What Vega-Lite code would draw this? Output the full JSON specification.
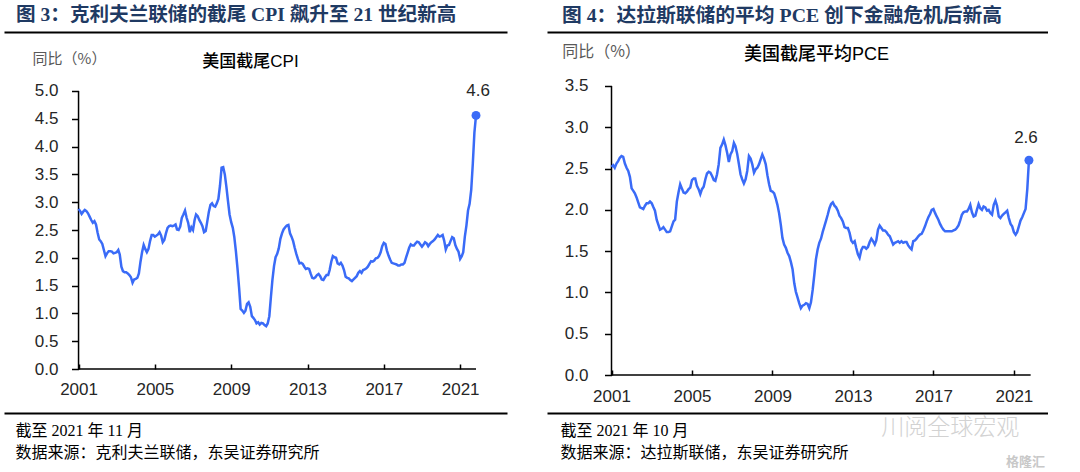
{
  "$schema": "https://vega.github.io/schema/vega-lite/v6.json",
  "background": "white",
  "padding": {"left": 4, "top": 5, "right": 0, "bottom": 0},
  "spacing": 40,
  "config": {"view": {"stroke": null}, "axis": {"grid": false}, "font": "Liberation Sans"},
  "datasets": {
    "cpi": [
      {"d":"2001-01","v":2.88},{"d":"2001-02","v":2.84},{"d":"2001-03","v":2.79},{"d":"2001-04","v":2.83},{"d":"2001-05","v":2.86},{"d":"2001-06","v":2.84},{"d":"2001-07","v":2.80},{"d":"2001-08","v":2.74},{"d":"2001-09","v":2.68},{"d":"2001-10","v":2.63},{"d":"2001-11","v":2.66},{"d":"2001-12","v":2.60},
      {"d":"2002-01","v":2.45},{"d":"2002-02","v":2.33},{"d":"2002-03","v":2.30},{"d":"2002-04","v":2.25},{"d":"2002-05","v":2.14},{"d":"2002-06","v":2.03},{"d":"2002-07","v":2.08},{"d":"2002-08","v":2.12},{"d":"2002-09","v":2.12},{"d":"2002-10","v":2.11},{"d":"2002-11","v":2.08},{"d":"2002-12","v":2.09},
      {"d":"2003-01","v":2.10},{"d":"2003-02","v":2.14},{"d":"2003-03","v":2.06},{"d":"2003-04","v":1.84},{"d":"2003-05","v":1.76},{"d":"2003-06","v":1.74},{"d":"2003-07","v":1.74},{"d":"2003-08","v":1.72},{"d":"2003-09","v":1.69},{"d":"2003-10","v":1.65},{"d":"2003-11","v":1.55},{"d":"2003-12","v":1.61},
      {"d":"2004-01","v":1.62},{"d":"2004-02","v":1.64},{"d":"2004-03","v":1.72},{"d":"2004-04","v":1.93},{"d":"2004-05","v":2.10},{"d":"2004-06","v":2.23},{"d":"2004-07","v":2.16},{"d":"2004-08","v":2.10},{"d":"2004-09","v":2.16},{"d":"2004-10","v":2.30},{"d":"2004-11","v":2.41},{"d":"2004-12","v":2.41},
      {"d":"2005-01","v":2.38},{"d":"2005-02","v":2.40},{"d":"2005-03","v":2.42},{"d":"2005-04","v":2.46},{"d":"2005-05","v":2.40},{"d":"2005-06","v":2.28},{"d":"2005-07","v":2.32},{"d":"2005-08","v":2.44},{"d":"2005-09","v":2.54},{"d":"2005-10","v":2.57},{"d":"2005-11","v":2.58},{"d":"2005-12","v":2.57},
      {"d":"2006-01","v":2.58},{"d":"2006-02","v":2.60},{"d":"2006-03","v":2.51},{"d":"2006-04","v":2.50},{"d":"2006-05","v":2.56},{"d":"2006-06","v":2.72},{"d":"2006-07","v":2.78},{"d":"2006-08","v":2.85},{"d":"2006-09","v":2.72},{"d":"2006-10","v":2.63},{"d":"2006-11","v":2.46},{"d":"2006-12","v":2.55},
      {"d":"2007-01","v":2.50},{"d":"2007-02","v":2.68},{"d":"2007-03","v":2.78},{"d":"2007-04","v":2.75},{"d":"2007-05","v":2.68},{"d":"2007-06","v":2.63},{"d":"2007-07","v":2.57},{"d":"2007-08","v":2.46},{"d":"2007-09","v":2.48},{"d":"2007-10","v":2.65},{"d":"2007-11","v":2.83},{"d":"2007-12","v":2.95},
      {"d":"2008-01","v":2.98},{"d":"2008-02","v":2.93},{"d":"2008-03","v":2.92},{"d":"2008-04","v":2.98},{"d":"2008-05","v":3.06},{"d":"2008-06","v":3.30},{"d":"2008-07","v":3.62},{"d":"2008-08","v":3.63},{"d":"2008-09","v":3.50},{"d":"2008-10","v":3.28},{"d":"2008-11","v":3.02},{"d":"2008-12","v":2.78},
      {"d":"2009-01","v":2.64},{"d":"2009-02","v":2.54},{"d":"2009-03","v":2.38},{"d":"2009-04","v":2.12},{"d":"2009-05","v":1.82},{"d":"2009-06","v":1.47},{"d":"2009-07","v":1.08},{"d":"2009-08","v":1.05},{"d":"2009-09","v":1.01},{"d":"2009-10","v":1.05},{"d":"2009-11","v":1.17},{"d":"2009-12","v":1.20},
      {"d":"2010-01","v":1.12},{"d":"2010-02","v":0.95},{"d":"2010-03","v":0.92},{"d":"2010-04","v":0.88},{"d":"2010-05","v":0.82},{"d":"2010-06","v":0.84},{"d":"2010-07","v":0.80},{"d":"2010-08","v":0.83},{"d":"2010-09","v":0.82},{"d":"2010-10","v":0.79},{"d":"2010-11","v":0.77},{"d":"2010-12","v":0.82},
      {"d":"2011-01","v":0.95},{"d":"2011-02","v":1.30},{"d":"2011-03","v":1.60},{"d":"2011-04","v":1.85},{"d":"2011-05","v":2.01},{"d":"2011-06","v":2.07},{"d":"2011-07","v":2.17},{"d":"2011-08","v":2.34},{"d":"2011-09","v":2.44},{"d":"2011-10","v":2.51},{"d":"2011-11","v":2.55},{"d":"2011-12","v":2.58},
      {"d":"2012-01","v":2.59},{"d":"2012-02","v":2.44},{"d":"2012-03","v":2.38},{"d":"2012-04","v":2.30},{"d":"2012-05","v":2.18},{"d":"2012-06","v":2.07},{"d":"2012-07","v":1.98},{"d":"2012-08","v":1.90},{"d":"2012-09","v":1.91},{"d":"2012-10","v":1.89},{"d":"2012-11","v":1.84},{"d":"2012-12","v":1.80},
      {"d":"2013-01","v":1.81},{"d":"2013-02","v":1.80},{"d":"2013-03","v":1.72},{"d":"2013-04","v":1.64},{"d":"2013-05","v":1.63},{"d":"2013-06","v":1.65},{"d":"2013-07","v":1.69},{"d":"2013-08","v":1.71},{"d":"2013-09","v":1.67},{"d":"2013-10","v":1.61},{"d":"2013-11","v":1.60},{"d":"2013-12","v":1.65},
      {"d":"2014-01","v":1.69},{"d":"2014-02","v":1.69},{"d":"2014-03","v":1.78},{"d":"2014-04","v":1.93},{"d":"2014-05","v":2.03},{"d":"2014-06","v":2.01},{"d":"2014-07","v":2.00},{"d":"2014-08","v":1.90},{"d":"2014-09","v":1.88},{"d":"2014-10","v":1.91},{"d":"2014-11","v":1.86},{"d":"2014-12","v":1.78},
      {"d":"2015-01","v":1.66},{"d":"2015-02","v":1.64},{"d":"2015-03","v":1.63},{"d":"2015-04","v":1.60},{"d":"2015-05","v":1.58},{"d":"2015-06","v":1.61},{"d":"2015-07","v":1.64},{"d":"2015-08","v":1.67},{"d":"2015-09","v":1.73},{"d":"2015-10","v":1.76},{"d":"2015-11","v":1.73},{"d":"2015-12","v":1.78},
      {"d":"2016-01","v":1.79},{"d":"2016-02","v":1.81},{"d":"2016-03","v":1.84},{"d":"2016-04","v":1.89},{"d":"2016-05","v":1.94},{"d":"2016-06","v":1.93},{"d":"2016-07","v":1.95},{"d":"2016-08","v":1.99},{"d":"2016-09","v":2.00},{"d":"2016-10","v":2.03},{"d":"2016-11","v":2.10},{"d":"2016-12","v":2.21},
      {"d":"2017-01","v":2.27},{"d":"2017-02","v":2.25},{"d":"2017-03","v":2.13},{"d":"2017-04","v":2.04},{"d":"2017-05","v":1.97},{"d":"2017-06","v":1.91},{"d":"2017-07","v":1.90},{"d":"2017-08","v":1.89},{"d":"2017-09","v":1.88},{"d":"2017-10","v":1.86},{"d":"2017-11","v":1.86},{"d":"2017-12","v":1.88},
      {"d":"2018-01","v":1.88},{"d":"2018-02","v":1.91},{"d":"2018-03","v":2.00},{"d":"2018-04","v":2.09},{"d":"2018-05","v":2.18},{"d":"2018-06","v":2.24},{"d":"2018-07","v":2.22},{"d":"2018-08","v":2.22},{"d":"2018-09","v":2.26},{"d":"2018-10","v":2.29},{"d":"2018-11","v":2.28},{"d":"2018-12","v":2.24},
      {"d":"2019-01","v":2.20},{"d":"2019-02","v":2.24},{"d":"2019-03","v":2.28},{"d":"2019-04","v":2.26},{"d":"2019-05","v":2.21},{"d":"2019-06","v":2.25},{"d":"2019-07","v":2.28},{"d":"2019-08","v":2.30},{"d":"2019-09","v":2.33},{"d":"2019-10","v":2.37},{"d":"2019-11","v":2.41},{"d":"2019-12","v":2.38},
      {"d":"2020-01","v":2.39},{"d":"2020-02","v":2.41},{"d":"2020-03","v":2.31},{"d":"2020-04","v":2.15},{"d":"2020-05","v":2.22},{"d":"2020-06","v":2.23},{"d":"2020-07","v":2.30},{"d":"2020-08","v":2.37},{"d":"2020-09","v":2.35},{"d":"2020-10","v":2.23},{"d":"2020-11","v":2.16},{"d":"2020-12","v":2.11},
      {"d":"2021-01","v":1.98},{"d":"2021-02","v":2.03},{"d":"2021-03","v":2.10},{"d":"2021-04","v":2.38},{"d":"2021-05","v":2.58},{"d":"2021-06","v":2.85},{"d":"2021-07","v":2.97},{"d":"2021-08","v":3.22},{"d":"2021-09","v":3.70},{"d":"2021-10","v":4.25},{"d":"2021-11","v":4.56}
    ],
    "pce": [
      {"d":"2001-01","v":2.52},{"d":"2001-02","v":2.54},{"d":"2001-03","v":2.51},{"d":"2001-04","v":2.56},{"d":"2001-05","v":2.59},{"d":"2001-06","v":2.63},{"d":"2001-07","v":2.65},{"d":"2001-08","v":2.64},{"d":"2001-09","v":2.56},{"d":"2001-10","v":2.51},{"d":"2001-11","v":2.47},{"d":"2001-12","v":2.40},
      {"d":"2002-01","v":2.26},{"d":"2002-02","v":2.23},{"d":"2002-03","v":2.20},{"d":"2002-04","v":2.15},{"d":"2002-05","v":2.09},{"d":"2002-06","v":2.03},{"d":"2002-07","v":2.02},{"d":"2002-08","v":2.01},{"d":"2002-09","v":2.05},{"d":"2002-10","v":2.08},{"d":"2002-11","v":2.08},{"d":"2002-12","v":2.10},
      {"d":"2003-01","v":2.08},{"d":"2003-02","v":2.03},{"d":"2003-03","v":1.99},{"d":"2003-04","v":1.88},{"d":"2003-05","v":1.82},{"d":"2003-06","v":1.76},{"d":"2003-07","v":1.77},{"d":"2003-08","v":1.79},{"d":"2003-09","v":1.76},{"d":"2003-10","v":1.73},{"d":"2003-11","v":1.73},{"d":"2003-12","v":1.74},
      {"d":"2004-01","v":1.80},{"d":"2004-02","v":1.86},{"d":"2004-03","v":1.88},{"d":"2004-04","v":2.10},{"d":"2004-05","v":2.21},{"d":"2004-06","v":2.31},{"d":"2004-07","v":2.26},{"d":"2004-08","v":2.21},{"d":"2004-09","v":2.20},{"d":"2004-10","v":2.22},{"d":"2004-11","v":2.25},{"d":"2004-12","v":2.27},
      {"d":"2005-01","v":2.36},{"d":"2005-02","v":2.38},{"d":"2005-03","v":2.38},{"d":"2005-04","v":2.29},{"d":"2005-05","v":2.25},{"d":"2005-06","v":2.19},{"d":"2005-07","v":2.25},{"d":"2005-08","v":2.28},{"d":"2005-09","v":2.37},{"d":"2005-10","v":2.44},{"d":"2005-11","v":2.46},{"d":"2005-12","v":2.45},
      {"d":"2006-01","v":2.41},{"d":"2006-02","v":2.36},{"d":"2006-03","v":2.35},{"d":"2006-04","v":2.43},{"d":"2006-05","v":2.55},{"d":"2006-06","v":2.75},{"d":"2006-07","v":2.79},{"d":"2006-08","v":2.85},{"d":"2006-09","v":2.78},{"d":"2006-10","v":2.69},{"d":"2006-11","v":2.58},{"d":"2006-12","v":2.67},
      {"d":"2007-01","v":2.71},{"d":"2007-02","v":2.81},{"d":"2007-03","v":2.77},{"d":"2007-04","v":2.68},{"d":"2007-05","v":2.56},{"d":"2007-06","v":2.43},{"d":"2007-07","v":2.37},{"d":"2007-08","v":2.32},{"d":"2007-09","v":2.37},{"d":"2007-10","v":2.47},{"d":"2007-11","v":2.65},{"d":"2007-12","v":2.62},
      {"d":"2008-01","v":2.55},{"d":"2008-02","v":2.45},{"d":"2008-03","v":2.49},{"d":"2008-04","v":2.51},{"d":"2008-05","v":2.55},{"d":"2008-06","v":2.61},{"d":"2008-07","v":2.67},{"d":"2008-08","v":2.62},{"d":"2008-09","v":2.55},{"d":"2008-10","v":2.42},{"d":"2008-11","v":2.31},{"d":"2008-12","v":2.23},
      {"d":"2009-01","v":2.22},{"d":"2009-02","v":2.20},{"d":"2009-03","v":2.14},{"d":"2009-04","v":2.06},{"d":"2009-05","v":1.96},{"d":"2009-06","v":1.82},{"d":"2009-07","v":1.66},{"d":"2009-08","v":1.58},{"d":"2009-09","v":1.54},{"d":"2009-10","v":1.48},{"d":"2009-11","v":1.44},{"d":"2009-12","v":1.37},
      {"d":"2010-01","v":1.28},{"d":"2010-02","v":1.11},{"d":"2010-03","v":1.01},{"d":"2010-04","v":0.94},{"d":"2010-05","v":0.87},{"d":"2010-06","v":0.81},{"d":"2010-07","v":0.84},{"d":"2010-08","v":0.85},{"d":"2010-09","v":0.87},{"d":"2010-10","v":0.86},{"d":"2010-11","v":0.81},{"d":"2010-12","v":0.88},
      {"d":"2011-01","v":1.03},{"d":"2011-02","v":1.22},{"d":"2011-03","v":1.40},{"d":"2011-04","v":1.52},{"d":"2011-05","v":1.60},{"d":"2011-06","v":1.65},{"d":"2011-07","v":1.73},{"d":"2011-08","v":1.80},{"d":"2011-09","v":1.87},{"d":"2011-10","v":1.94},{"d":"2011-11","v":2.02},{"d":"2011-12","v":2.07},
      {"d":"2012-01","v":2.09},{"d":"2012-02","v":2.05},{"d":"2012-03","v":2.03},{"d":"2012-04","v":1.99},{"d":"2012-05","v":1.93},{"d":"2012-06","v":1.90},{"d":"2012-07","v":1.86},{"d":"2012-08","v":1.79},{"d":"2012-09","v":1.78},{"d":"2012-10","v":1.78},{"d":"2012-11","v":1.72},{"d":"2012-12","v":1.63},
      {"d":"2013-01","v":1.60},{"d":"2013-02","v":1.62},{"d":"2013-03","v":1.54},{"d":"2013-04","v":1.46},{"d":"2013-05","v":1.42},{"d":"2013-06","v":1.51},{"d":"2013-07","v":1.55},{"d":"2013-08","v":1.55},{"d":"2013-09","v":1.53},{"d":"2013-10","v":1.55},{"d":"2013-11","v":1.61},{"d":"2013-12","v":1.65},
      {"d":"2014-01","v":1.62},{"d":"2014-02","v":1.58},{"d":"2014-03","v":1.63},{"d":"2014-04","v":1.76},{"d":"2014-05","v":1.81},{"d":"2014-06","v":1.78},{"d":"2014-07","v":1.75},{"d":"2014-08","v":1.75},{"d":"2014-09","v":1.73},{"d":"2014-10","v":1.70},{"d":"2014-11","v":1.68},{"d":"2014-12","v":1.63},
      {"d":"2015-01","v":1.58},{"d":"2015-02","v":1.60},{"d":"2015-03","v":1.61},{"d":"2015-04","v":1.62},{"d":"2015-05","v":1.60},{"d":"2015-06","v":1.62},{"d":"2015-07","v":1.60},{"d":"2015-08","v":1.61},{"d":"2015-09","v":1.61},{"d":"2015-10","v":1.57},{"d":"2015-11","v":1.54},{"d":"2015-12","v":1.52},
      {"d":"2016-01","v":1.62},{"d":"2016-02","v":1.63},{"d":"2016-03","v":1.65},{"d":"2016-04","v":1.68},{"d":"2016-05","v":1.70},{"d":"2016-06","v":1.71},{"d":"2016-07","v":1.75},{"d":"2016-08","v":1.80},{"d":"2016-09","v":1.86},{"d":"2016-10","v":1.91},{"d":"2016-11","v":1.95},{"d":"2016-12","v":2.00},
      {"d":"2017-01","v":2.01},{"d":"2017-02","v":1.96},{"d":"2017-03","v":1.92},{"d":"2017-04","v":1.88},{"d":"2017-05","v":1.83},{"d":"2017-06","v":1.79},{"d":"2017-07","v":1.76},{"d":"2017-08","v":1.74},{"d":"2017-09","v":1.74},{"d":"2017-10","v":1.74},{"d":"2017-11","v":1.74},{"d":"2017-12","v":1.74},
      {"d":"2018-01","v":1.75},{"d":"2018-02","v":1.76},{"d":"2018-03","v":1.78},{"d":"2018-04","v":1.81},{"d":"2018-05","v":1.87},{"d":"2018-06","v":1.94},{"d":"2018-07","v":1.97},{"d":"2018-08","v":1.98},{"d":"2018-09","v":1.98},{"d":"2018-10","v":2.01},{"d":"2018-11","v":2.06},{"d":"2018-12","v":1.97},
      {"d":"2019-01","v":1.92},{"d":"2019-02","v":1.93},{"d":"2019-03","v":2.00},{"d":"2019-04","v":2.07},{"d":"2019-05","v":2.02},{"d":"2019-06","v":2.00},{"d":"2019-07","v":2.04},{"d":"2019-08","v":2.03},{"d":"2019-09","v":1.99},{"d":"2019-10","v":2.00},{"d":"2019-11","v":1.96},{"d":"2019-12","v":1.94},
      {"d":"2020-01","v":2.06},{"d":"2020-02","v":2.11},{"d":"2020-03","v":2.05},{"d":"2020-04","v":1.92},{"d":"2020-05","v":1.90},{"d":"2020-06","v":1.93},{"d":"2020-07","v":1.95},{"d":"2020-08","v":1.97},{"d":"2020-09","v":1.99},{"d":"2020-10","v":1.90},{"d":"2020-11","v":1.83},{"d":"2020-12","v":1.80},
      {"d":"2021-01","v":1.73},{"d":"2021-02","v":1.70},{"d":"2021-03","v":1.73},{"d":"2021-04","v":1.80},{"d":"2021-05","v":1.87},{"d":"2021-06","v":1.91},{"d":"2021-07","v":1.96},{"d":"2021-08","v":2.01},{"d":"2021-09","v":2.25},{"d":"2021-10","v":2.60}
    ]
  },
  "hconcat": [
    {
      "width": 503,
      "height": 381,
      "title": {"text": "图 3：克利夫兰联储的截尾 CPI 飙升至 21 世纪新高", "anchor": "start", "frame": "group", "font": "Liberation Serif, Noto Sans CJK SC", "fontSize": 19.6, "fontWeight": "bold", "color": "#1F3A63", "dx": 12, "offset": 6},
      "data": {"name": "cpi"},
      "resolve": {"axis": {"x": "independent", "y": "independent"}},
      "layer": [
        {
          "data": {"values": [{}]},
          "mark": {"type": "rule", "color": "#000000", "strokeWidth": 1.5},
          "encoding": {
            "x": {"datum": {"year": 2001, "month": 1, "date": 1, "utc": true}, "type": "temporal", "axis": null},
            "x2": {"datum": {"year": 2021, "month": 11, "date": 1, "utc": true}},
            "y": {"datum": 0, "type": "quantitative", "axis": null}
          }
        },
        {
          "data": {"values": [{}]},
          "mark": {"type": "rule", "color": "#000000", "strokeWidth": 1.5},
          "encoding": {
            "x": {"datum": {"year": 2001, "month": 1, "date": 1, "utc": true}, "type": "temporal", "axis": null},
            "y": {"datum": 0, "type": "quantitative", "axis": null},
            "y2": {"datum": 5}
          }
        },
        {
          "mark": {"type": "line", "color": "#3A6BF7", "strokeWidth": 2.5},
          "encoding": {
            "x": {"field": "d", "type": "temporal",
              "scale": {"type": "utc", "domain": [{"year": 1997, "month": 2, "date": 4, "utc": true}, {"year": 2023, "month": 6, "date": 17, "utc": true}]},
              "axis": {"orient": "bottom", "offset": -44, "values": [{"year": 2001, "utc": true}, {"year": 2005, "utc": true}, {"year": 2009, "utc": true}, {"year": 2013, "utc": true}, {"year": 2017, "utc": true}, {"year": 2021, "utc": true}],
                "format": "%Y", "formatType": "utc", "domain": false, "tickSize": -5, "tickColor": "#000000", "tickWidth": 1.5,
                "labelFont": "Liberation Sans", "labelFontSize": 17, "labelColor": "#262626", "labelPadding": 17, "labelFlush": false, "labelOverlap": false, "title": null}},
            "y": {"field": "v", "type": "quantitative",
              "scale": {"domain": [-0.791, 6.061], "nice": false, "zero": false},
              "axis": {"orient": "left", "offset": -74.5, "values": [0, 0.5, 1, 1.5, 2, 2.5, 3, 3.5, 4, 4.5, 5], "format": ".1f", "domain": false,
                "tickSize": 7, "tickColor": "#000000", "tickWidth": 1.5, "labelFont": "Liberation Sans", "labelFontSize": 17, "labelColor": "#262626", "labelPadding": 13.5, "labelFlush": false, "labelOverlap": false,
                "title": "同比（%）", "titleAngle": 0, "titleX": -9.5, "titleY": 26, "titleAlign": "center", "titleBaseline": "middle",
                "titleFont": "Noto Sans CJK SC", "titleFontSize": 15, "titleFontWeight": "normal", "titleColor": "#595959"}}
          }
        },
        {
          "transform": [{"filter": "utcyear(datum.d) == 2021 && utcmonth(datum.d) == 10"}],
          "mark": {"type": "point", "filled": true, "color": "#3A6BF7", "size": 80, "opacity": 1},
          "encoding": {
            "x": {"field": "d", "type": "temporal",
              "axis": {"orient": "top", "domain": true, "domainColor": "#000000", "domainWidth": 2, "ticks": false, "labels": false,
                "title": "美国截尾CPI", "titleX": 246, "titleY": 29, "titleAlign": "center", "titleBaseline": "middle", "titleAngle": 0,
                "titleFont": "Liberation Sans, Noto Sans CJK SC", "titleFontSize": 17, "titleFontWeight": 500, "titleColor": "#000000"}},
            "y": {"field": "v", "type": "quantitative", "axis": null}
          }
        },
        {
          "transform": [{"filter": "utcyear(datum.d) == 2021 && utcmonth(datum.d) == 10"}],
          "mark": {"type": "text", "fontSize": 17, "color": "#262626", "baseline": "bottom", "dy": -15, "dx": 2, "font": "Liberation Sans"},
          "encoding": {
            "x": {"field": "d", "type": "temporal",
              "axis": {"orient": "bottom", "domain": true, "domainColor": "#000000", "domainWidth": 2, "ticks": false, "labels": false,
                "title": ["截至 2021 年 11 月", "数据来源：克利夫兰联储，东吴证券研究所"], "titleX": 11, "titleY": 9, "titleAlign": "left", "titleBaseline": "top", "titleAngle": 0,
                "titleFont": "Liberation Serif, Noto Sans CJK SC", "titleFontSize": 16, "titleFontWeight": "normal", "titleColor": "#000000", "titleLineHeight": 22}},
            "y": {"field": "v", "type": "quantitative", "axis": null},
            "text": {"field": "v", "format": ".1f"}
          }
        }
      ]
    },
    {
      "width": 501,
      "height": 381,
      "title": {"text": "图 4：达拉斯联储的平均 PCE 创下金融危机后新高", "anchor": "start", "frame": "group", "font": "Liberation Serif, Noto Sans CJK SC", "fontSize": 19.8, "fontWeight": "bold", "color": "#1F3A63", "dx": 15, "offset": 6},
      "data": {"name": "pce"},
      "resolve": {"axis": {"x": "independent", "y": "independent"}},
      "layer": [
        {
          "data": {"values": [{}]},
          "mark": {"type": "rule", "color": "#000000", "strokeWidth": 1.5},
          "encoding": {
            "x": {"datum": {"year": 2001, "month": 1, "date": 1, "utc": true}, "type": "temporal", "axis": null},
            "x2": {"datum": {"year": 2021, "month": 11, "date": 1, "utc": true}},
            "y": {"datum": 0, "type": "quantitative", "axis": null}
          }
        },
        {
          "data": {"values": [{}]},
          "mark": {"type": "rule", "color": "#000000", "strokeWidth": 1.5},
          "encoding": {
            "x": {"datum": {"year": 2001, "month": 1, "date": 1, "utc": true}, "type": "temporal", "axis": null},
            "y": {"datum": 0, "type": "quantitative", "axis": null},
            "y2": {"datum": 3.5}
          }
        },
        {
          "data": {"values": [{}]},
          "mark": {"type": "text", "fontSize": 23, "color": "#d2d2d2", "font": "Noto Sans CJK SC", "fontWeight": 300, "baseline": "middle"},
          "encoding": {
            "x": {"datum": {"year": 2017, "month": 11, "date": 1, "utc": true}, "type": "temporal", "axis": null},
            "y": {"datum": -0.64, "type": "quantitative", "axis": null},
            "text": {"value": "川阅全球宏观"}
          }
        },
        {
          "data": {"values": [{}]},
          "mark": {"type": "text", "fontSize": 13, "color": "#c8c8c8", "font": "Noto Sans CJK SC", "fontWeight": "bold"},
          "encoding": {
            "x": {"datum": {"year": 2021, "month": 8, "date": 1, "utc": true}, "type": "temporal", "axis": null},
            "y": {"datum": -1.05, "type": "quantitative", "axis": null},
            "text": {"value": "格隆汇"}
          }
        },
        {
          "mark": {"type": "line", "color": "#3A6BF7", "strokeWidth": 2.5},
          "encoding": {
            "x": {"field": "d", "type": "temporal",
              "scale": {"type": "utc", "domain": [{"year": 1997, "month": 10, "date": 18, "utc": true}, {"year": 2022, "month": 9, "date": 12, "utc": true}]},
              "axis": {"orient": "bottom", "offset": -38, "values": [{"year": 2001, "utc": true}, {"year": 2005, "utc": true}, {"year": 2009, "utc": true}, {"year": 2013, "utc": true}, {"year": 2017, "utc": true}, {"year": 2021, "utc": true}],
                "format": "%Y", "formatType": "utc", "domain": false, "tickSize": -5, "tickColor": "#000000", "tickWidth": 1.5,
                "labelFont": "Liberation Sans", "labelFontSize": 17, "labelColor": "#262626", "labelPadding": 18, "labelFlush": false, "labelOverlap": false, "title": null}},
            "y": {"field": "v", "type": "quantitative",
              "scale": {"domain": [-0.46, 4.153], "nice": false, "zero": false},
              "axis": {"orient": "left", "offset": -64.5, "values": [0, 0.5, 1, 1.5, 2, 2.5, 3, 3.5], "format": ".1f", "domain": false,
                "tickSize": 7, "tickColor": "#000000", "tickWidth": 1.5, "labelFont": "Liberation Sans", "labelFontSize": 17, "labelColor": "#262626", "labelPadding": 16.5, "labelFlush": false, "labelOverlap": false,
                "title": "同比（%）", "titleAngle": 0, "titleX": -10.5, "titleY": 19, "titleAlign": "center", "titleBaseline": "middle",
                "titleFont": "Noto Sans CJK SC", "titleFontSize": 16, "titleFontWeight": "normal", "titleColor": "#595959"}}
          }
        },
        {
          "transform": [{"filter": "utcyear(datum.d) == 2021 && utcmonth(datum.d) == 9"}],
          "mark": {"type": "point", "filled": true, "color": "#3A6BF7", "size": 80, "opacity": 1},
          "encoding": {
            "x": {"field": "d", "type": "temporal",
              "axis": {"orient": "top", "domain": true, "domainColor": "#000000", "domainWidth": 2, "ticks": false, "labels": false,
                "title": "美国截尾平均PCE", "titleX": 269, "titleY": 22, "titleAlign": "center", "titleBaseline": "middle", "titleAngle": 0,
                "titleFont": "Liberation Sans, Noto Sans CJK SC", "titleFontSize": 18, "titleFontWeight": 500, "titleColor": "#000000"}},
            "y": {"field": "v", "type": "quantitative", "axis": null}
          }
        },
        {
          "transform": [{"filter": "utcyear(datum.d) == 2021 && utcmonth(datum.d) == 9"}],
          "mark": {"type": "text", "fontSize": 17, "color": "#262626", "baseline": "bottom", "dy": -13, "dx": -3, "font": "Liberation Sans"},
          "encoding": {
            "x": {"field": "d", "type": "temporal",
              "axis": {"orient": "bottom", "domain": true, "domainColor": "#000000", "domainWidth": 2, "ticks": false, "labels": false,
                "title": ["截至 2021 年 10 月", "数据来源：达拉斯联储，东吴证券研究所"], "titleX": 13, "titleY": 9, "titleAlign": "left", "titleBaseline": "top", "titleAngle": 0,
                "titleFont": "Liberation Serif, Noto Sans CJK SC", "titleFontSize": 16, "titleFontWeight": "normal", "titleColor": "#000000", "titleLineHeight": 22}},
            "y": {"field": "v", "type": "quantitative", "axis": null},
            "text": {"field": "v", "format": ".1f"}
          }
        }
      ]
    }
  ]
}
